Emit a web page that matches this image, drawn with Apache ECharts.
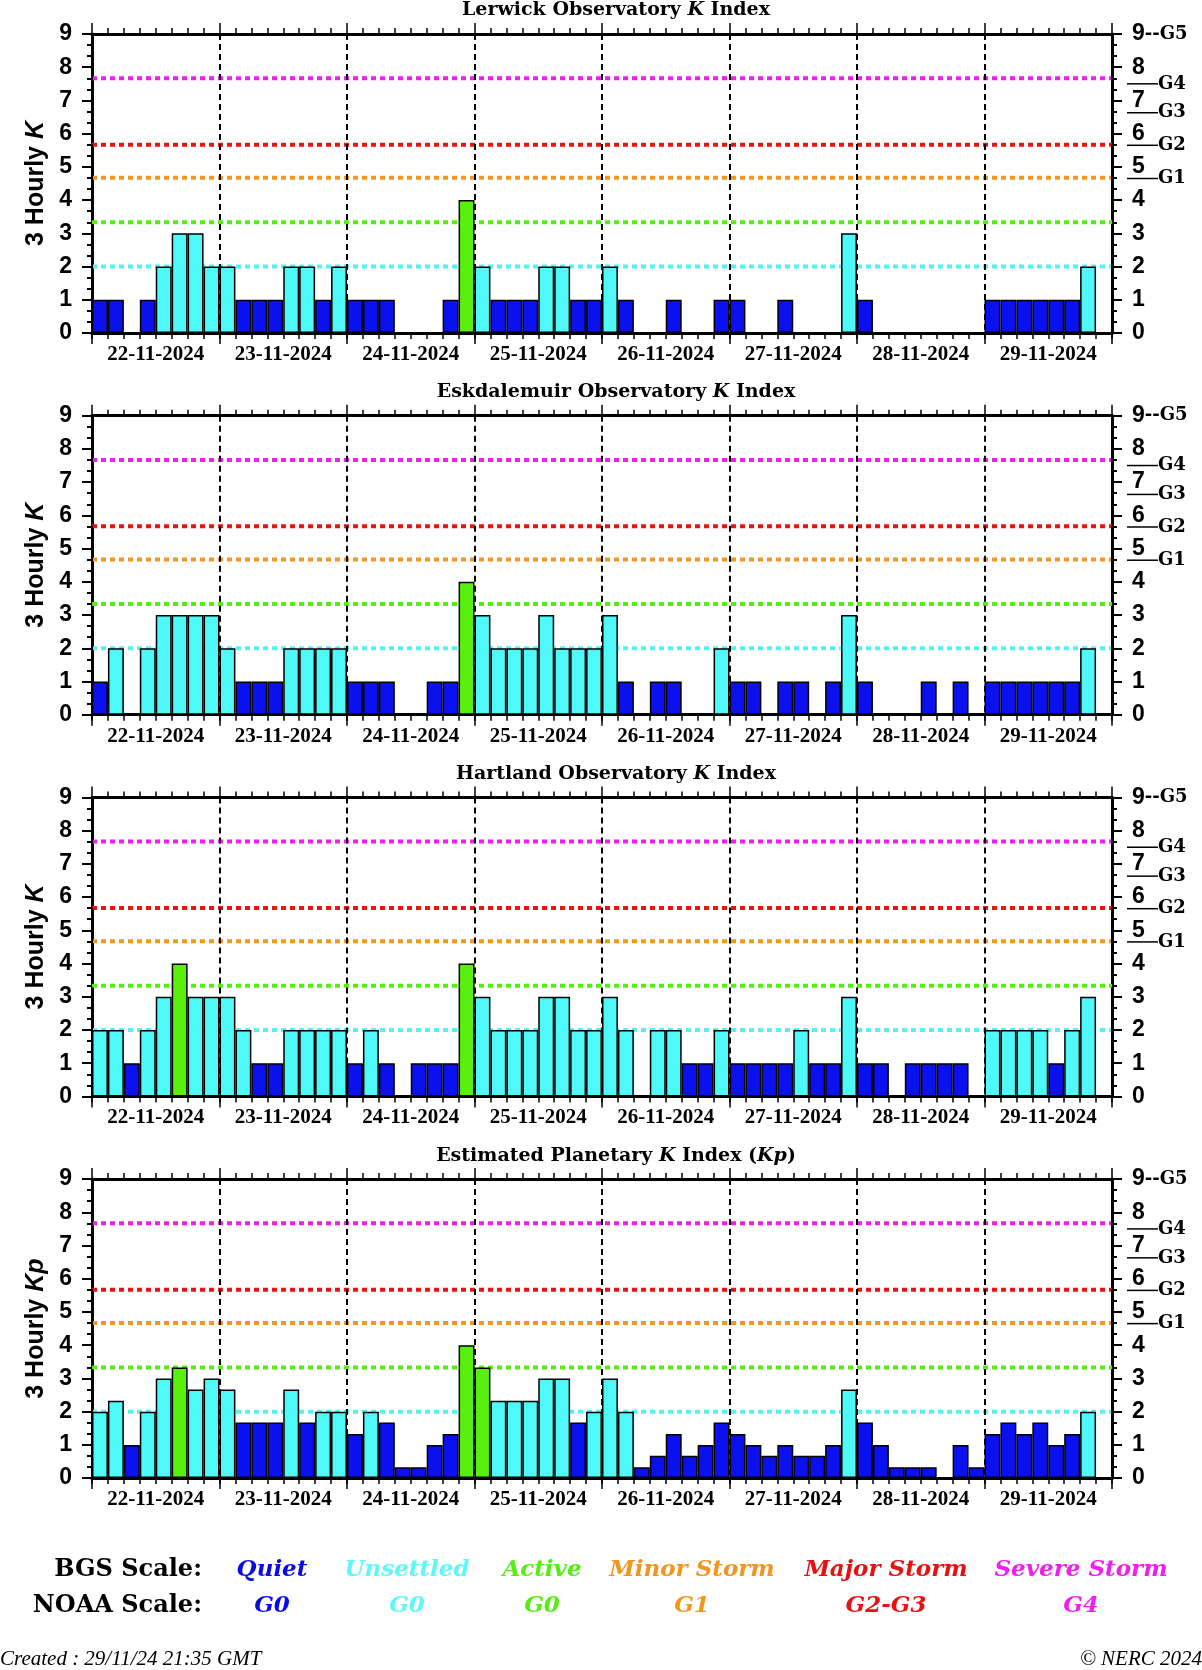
<!DOCTYPE html>
<html>
<head>
<meta charset="utf-8">
<script src="https://cdn.jsdelivr.net/npm/echarts@6/dist/echarts.min.js"></script>
<style>
html,body{margin:0;padding:0;background:#fff;}
#c{width:1202px;height:1670px;}
</style>
</head>
<body>
<div id="c"></div>
<script>
// ---------------- DATA ----------------
const days = ['22-11-2024','23-11-2024','24-11-2024','25-11-2024','26-11-2024','27-11-2024','28-11-2024','29-11-2024'];
const slotHours = ['00','03','06','09','12','15','18','21'];
const yTickLabels = ['0','1','2','3','4','5','6','7','8','9'];

// 3-hourly K values, 8 per day (null = not yet available)
const lerwick = [
  1,1,0,1,2,3,3,2,
  2,1,1,1,2,2,1,2,
  1,1,1,0,0,0,1,4,
  2,1,1,1,2,2,1,1,
  2,1,0,0,1,0,0,1,
  1,0,0,1,0,0,0,3,
  1,0,0,0,0,0,0,0,
  1,1,1,1,1,1,2,null
];
const eskdalemuir = [
  1,2,0,2,3,3,3,3,
  2,1,1,1,2,2,2,2,
  1,1,1,0,0,1,1,4,
  3,2,2,2,3,2,2,2,
  3,1,0,1,1,0,0,2,
  1,1,0,1,1,0,1,3,
  1,0,0,0,1,0,1,0,
  1,1,1,1,1,1,2,null
];
const hartland = [
  2,2,1,2,3,4,3,3,
  3,2,1,1,2,2,2,2,
  1,2,1,0,1,1,1,4,
  3,2,2,2,3,3,2,2,
  3,2,0,2,2,1,1,2,
  1,1,1,1,2,1,1,3,
  1,1,0,1,1,1,1,0,
  2,2,2,2,1,2,3,null
];
const kpEstimated = [
  2,2.33,1,2,3,3.33,2.67,3,
  2.67,1.67,1.67,1.67,2.67,1.67,2,2,
  1.33,2,1.67,0.33,0.33,1,1.33,4,
  3.33,2.33,2.33,2.33,3,3,1.67,2,
  3,2,0.33,0.67,1.33,0.67,1,1.67,
  1.33,1,0.67,1,0.67,0.67,1,2.67,
  1.67,1,0.33,0.33,0.33,0,1,0.33,
  1.33,1.67,1.33,1.67,1,1.33,2,null
];

const panelTitles = [
  'Lerwick Observatory {i|K} Index',
  'Eskdalemuir Observatory {i|K} Index',
  'Hartland Observatory {i|K} Index',
  'Estimated Planetary {i|K} Index ({i|Kp})'
];
const yAxisNames = ['3 Hourly {i|K}','3 Hourly {i|K}','3 Hourly {i|K}','3 Hourly {i|Kp}'];

// activity bands: lower bound of each band and its colour
const bandLower = [0, 2, 3.33, 4.67, 5.67, 7.67];
const bandColors = ['#0b10ee', '#4ff9f9', '#58f00c', '#f5961e', '#e81414', '#f01ef0'];
const thresholdValues = [2, 3.33, 4.67, 5.67, 7.67];
const thresholdColors = ['#55f2f2', '#55ee11', '#f5961e', '#e81414', '#f01ef0'];

// NOAA G-scale markers on right axis
const noaaLevels = [7.5, 6.63, 5.65, 4.65];
const noaaLabels = ['G4', 'G3', 'G2', 'G1'];

// legend
const bgsNames = ['Quiet','Unsettled','Active','Minor Storm','Major Storm','Severe Storm'];
const noaaNames = ['G0','G0','G0','G1','G2-G3','G4'];
const legendColors = ['#0a0ae6','#5ff8f8','#55ee11','#f0961e','#e81010','#f01ef0'];
const createdText = 'Created : 29/11/24 21:35 GMT';
const copyrightText = '© NERC 2024';

// ---------------- BUILD ----------------
const SERIF = '"Liberation Serif", "DejaVu Serif", serif';
const WSERIF = '"DejaVu Serif", "Liberation Serif", serif';
const SANS = '"Liberation Sans", "DejaVu Sans", Arial, sans-serif';
const panelValues = [lerwick, eskdalemuir, hartland, kpEstimated];
const slotLabels = [];
days.forEach(d => slotHours.forEach(h => slotLabels.push(d + ' ' + h)));

function barColor(v) {
  let idx = 0;
  for (let i = 0; i < bandLower.length; i++) if (v >= bandLower[i] - 0.01) idx = i;
  return bandColors[idx];
}

const GRID_LEFT = 92, GRID_W = 1020, GRID_H = 299, GRID_TOP0 = 34, PANEL_STEP = 381.7;

const grids = [], xAxes = [], yAxes = [], series = [], titles = [];

panelValues.forEach((vals, i) => {
  const top = GRID_TOP0 + i * PANEL_STEP;
  const g = { left: GRID_LEFT, top: top, width: GRID_W, height: GRID_H };
  grids.push(Object.assign({}, g), Object.assign({}, g));
  const gm = 2 * i, go = 2 * i + 1;

  const slotAxisCommon = {
    type: 'category', data: slotLabels, boundaryGap: true,
    axisLine: { show: true, onZero: false, lineStyle: { color: '#000', width: 3 } },
    axisTick: { show: true, interval: 0, length: 6, lineStyle: { color: '#000', width: 1.5 } },
    axisLabel: { show: false }, splitLine: { show: false }
  };
  xAxes.push(
    Object.assign({}, slotAxisCommon, { gridIndex: gm, position: 'bottom' }),
    Object.assign({}, slotAxisCommon, { gridIndex: gm, position: 'top' }),
    {
      type: 'category', gridIndex: go, position: 'bottom', data: days, boundaryGap: true, z: 3,
      axisLine: { show: false, onZero: false },
      axisTick: { show: true, interval: 0, length: 11, lineStyle: { color: '#000', width: 1.5 } },
      axisLabel: { show: true, interval: 0, margin: 11, color: '#000', fontFamily: SERIF, fontWeight: 'bold', fontSize: 21 },
      splitLine: { show: true, interval: 0, lineStyle: { color: '#000', width: 2, type: [6, 4] } }
    },
    {
      type: 'category', gridIndex: go, position: 'top', data: days, boundaryGap: true,
      axisLine: { show: false, onZero: false },
      axisTick: { show: true, interval: 0, length: 11, lineStyle: { color: '#000', width: 1.5 } },
      axisLabel: { show: false }, splitLine: { show: false }
    }
  );

  const yCommon = {
    type: 'value', min: 0, max: 9, interval: 1,
    axisLine: { show: true, onZero: false, lineStyle: { color: '#000', width: 3 } },
    axisTick: { show: true, length: 10, lineStyle: { color: '#000', width: 2 } },
    minorTick: { show: true, splitNumber: 3, length: 5, lineStyle: { color: '#000', width: 2 } },
    splitLine: { show: false }, minorSplitLine: { show: false }
  };
  yAxes.push(
    Object.assign({}, yCommon, {
      gridIndex: gm, position: 'left',
      axisLabel: { margin: 20, color: '#000', fontFamily: SANS, fontWeight: 'bold', fontSize: 23,
        formatter: v => yTickLabels[Math.round(v)] },
      name: yAxisNames[i], nameLocation: 'middle', nameRotate: 90, nameGap: 43,
      nameTextStyle: { color: '#000', fontFamily: SANS, fontWeight: 'bold', fontSize: 25,
        rich: { i: { fontStyle: 'italic', fontFamily: SANS, fontWeight: 'bold', fontSize: 25, color: '#000' } } }
    }),
    Object.assign({}, yCommon, {
      gridIndex: go, position: 'right',
      axisLabel: { margin: 20, color: '#000',
        formatter: v => {
          const t = yTickLabels[Math.round(v)];
          return Math.round(v) === 9 ? '{n|' + t + '}{g|--G5}' : '{n|' + t + '}';
        },
        rich: {
          n: { fontFamily: SANS, fontWeight: 'bold', fontSize: 23, color: '#000' },
          g: { fontFamily: WSERIF, fontWeight: 'bold', fontSize: 18, color: '#000' }
        } }
    })
  );

  series.push({
    type: 'bar', xAxisIndex: 4 * i, yAxisIndex: 2 * i, data: vals, z: 2,
    barCategoryGap: '0%', barGap: '0%', animation: false,
    itemStyle: { color: p => barColor(p.value), borderColor: '#000', borderWidth: 1.5 }
  });
  series.push({
    type: 'custom', xAxisIndex: 4 * i + 2, yAxisIndex: 2 * i + 1, z: 1, animation: false,
    data: thresholdValues.map(v => [0, v]),
    renderItem: (params, api) => {
      const y = api.coord([0, api.value(1)])[1];
      const cs = params.coordSys;
      return { type: 'line', shape: { x1: cs.x, y1: y, x2: cs.x + cs.width, y2: y },
        style: { stroke: thresholdColors[params.dataIndex], lineWidth: 4, lineDash: [5, 4] } };
    }
  });
  series.push({
    type: 'custom', xAxisIndex: 4 * i + 2, yAxisIndex: 2 * i + 1, z: 4, clip: false, animation: false,
    data: noaaLevels.map(v => [0, v]),
    renderItem: (params, api) => {
      const y = api.coord([0, api.value(1)])[1];
      const cs = params.coordSys;
      const xr = cs.x + cs.width;
      return { type: 'group', children: [
        { type: 'line', shape: { x1: xr + 15, y1: y, x2: xr + 46, y2: y }, style: { stroke: '#000', lineWidth: 1.5 } },
        { type: 'text', style: { text: noaaLabels[params.dataIndex], x: xr + 46, y: y, align: 'left', verticalAlign: 'middle',
            font: 'bold 18px ' + WSERIF, fill: '#000' } }
      ] };
    }
  });

  titles.push({
    text: panelTitles[i], left: 616, top: top - 33, textAlign: 'center', padding: 0,
    textStyle: { color: '#000', fontFamily: WSERIF, fontWeight: 'bold', fontSize: 19,
      rich: { i: { fontStyle: 'italic', fontFamily: WSERIF, fontWeight: 'bold', fontSize: 19, color: '#000' } } }
  });
});

// legend graphics
const legendX = [272, 407, 542, 692, 886, 1081];
const ROW1 = 1570, ROW2 = 1606;
const graphics = [
  { type: 'text', x: 202, y: ROW1, style: { text: 'BGS Scale:', align: 'right', verticalAlign: 'middle', font: 'bold 24px ' + WSERIF, fill: '#000' } },
  { type: 'text', x: 202, y: ROW2, style: { text: 'NOAA Scale:', align: 'right', verticalAlign: 'middle', font: 'bold 24px ' + WSERIF, fill: '#000' } },
  { type: 'text', x: 0, y: 1659, style: { text: createdText, align: 'left', verticalAlign: 'middle', font: 'italic 21px ' + SERIF, fill: '#000' } },
  { type: 'text', x: 1202, y: 1659, style: { text: copyrightText, align: 'right', verticalAlign: 'middle', font: 'italic 21px ' + SERIF, fill: '#000' } }
];
bgsNames.forEach((n, k) => {
  graphics.push({ type: 'text', x: legendX[k], y: ROW1, style: { text: n, align: 'center', verticalAlign: 'middle',
    font: 'italic bold 23px ' + WSERIF, fill: legendColors[k] } });
  graphics.push({ type: 'text', x: legendX[k], y: ROW2, style: { text: noaaNames[k], align: 'center', verticalAlign: 'middle',
    font: 'italic bold 23px ' + WSERIF, fill: legendColors[k] } });
});

const chart = echarts.init(document.getElementById('c'), null, { renderer: 'canvas' });
chart.setOption({
  animation: false,
  backgroundColor: '#fff',
  title: titles,
  grid: grids,
  xAxis: xAxes,
  yAxis: yAxes,
  series: series,
  graphic: graphics
});
</script>
</body>
</html>
